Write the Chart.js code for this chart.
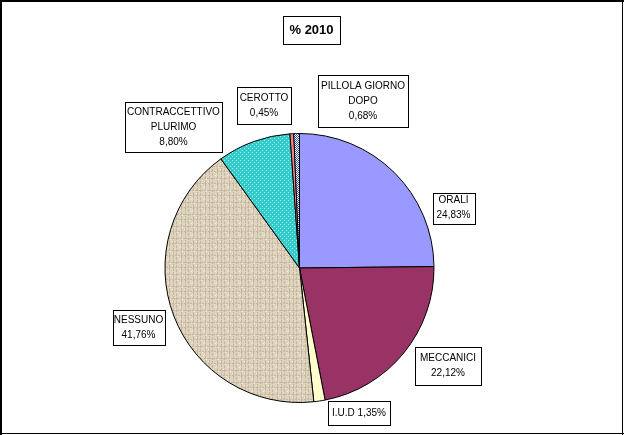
<!DOCTYPE html>
<html>
<head>
<meta charset="utf-8">
<script src="https://cdn.jsdelivr.net/npm/chart.js@4.4.1/dist/chart.umd.min.js"></script>
<style>
  body { margin: 0; background: #fff; }
  canvas { display: block; }
</style>
</head>
<body>
<canvas id="myChart" width="624" height="435"></canvas>
<script>
// data (% 2010)
const categories = ['ORALI', 'MECCANICI', 'I.U.D', 'NESSUNO', 'CONTRACCETTIVO PLURIMO', 'CEROTTO', 'PILLOLA GIORNO DOPO'];
const values = [24.83, 22.12, 1.35, 41.76, 8.80, 0.45, 0.68];
const chartTitle = '% 2010';

// label box lines (how the callouts wrap the names)
const labelLines = [
    ['ORALI'],
    ['MECCANICI'],
    ['I.U.D'],
    ['NESSUNO'],
    ['CONTRACCETTIVO', 'PLURIMO'],
    ['CEROTTO'],
    ['PILLOLA GIORNO', 'DOPO']
];

// callout box placement, relative to pie centre (dx, dy) and box size
const labelBoxes = [
    { dx: 154, dy: -60, w: 42, h: 31, inline: false },
    { dx: 148.5, dy: 98, w: 66, h: 38, inline: false },
    { dx: 59.5, dy: 145, w: 62, h: 24, inline: true },
    { dx: -161, dy: 59.5, w: 52, h: 35, inline: false },
    { dx: -126, dy: -141, w: 97, h: 50, inline: false },
    { dx: -35.5, dy: -162.5, w: 54, h: 37, inline: false },
    { dx: 63.5, dy: -167, w: 90, h: 52, inline: false }
];

function fmt(v) {
    return v.toFixed(2).replace('.', ',') + '%';
}

function makePattern(size, draw) {
    const c = document.createElement('canvas');
    c.width = size;
    c.height = size;
    const g = c.getContext('2d');
    draw(g);
    return c.getContext('2d').createPattern(c, 'repeat');
}

// textured fills like the old Excel chart
const canvasFill = makePattern(12, g => {
    g.fillStyle = '#ddd3be';
    g.fillRect(0, 0, 12, 12);
    // linen weave: broken vertical and horizontal threads
    g.fillStyle = '#c6b89c';
    [1, 5, 8].forEach(x => {
        for (let y = 0; y < 12; y++) {
            if ((y + x) % 4 !== 0) g.fillRect(x, y, 1, 1);
        }
    });
    [3, 10].forEach(y => {
        for (let x = 0; x < 12; x++) {
            if ((x + y) % 3 !== 0) g.fillRect(x, y, 1, 1);
        }
    });
    g.fillStyle = '#f0eadf';
    [[0, 6], [4, 1], [7, 9], [10, 4], [2, 11], [11, 7]].forEach(p => g.fillRect(p[0], p[1], 1, 1));
});

const dotsFill = makePattern(4, g => {
    g.fillStyle = '#33cccc';
    g.fillRect(0, 0, 4, 4);
    g.fillStyle = '#a8ecec';
    g.fillRect(0, 0, 1, 1);
    g.fillRect(2, 2, 1, 1);
});

const checkFill = makePattern(2, g => {
    g.fillStyle = '#ffffff';
    g.fillRect(0, 0, 2, 2);
    g.fillStyle = '#3355aa';
    g.fillRect(0, 0, 1, 1);
    g.fillRect(1, 1, 1, 1);
});

const sliceColors = ['#9999ff', '#993366', '#ffffcc', canvasFill, dotsFill, '#ff8080', checkFill];

function drawBox(ctx, cx, cy, w, h) {
    const x = Math.round(cx - w / 2) + 0.5;
    const y = Math.round(cy - h / 2) + 0.5;
    ctx.fillStyle = '#fff';
    ctx.fillRect(x, y, w, h);
    ctx.strokeStyle = '#000';
    ctx.lineWidth = 1;
    ctx.strokeRect(x, y, w, h);
}

const calloutPlugin = {
    id: 'callouts',
    afterDatasetsDraw(chart) {
        const ctx = chart.ctx;
        const arc = chart.getDatasetMeta(0).data[0];
        const cx = arc.x;
        const cy = arc.y;
        ctx.save();
        ctx.font = '10px "Liberation Sans", Arial, sans-serif';
        ctx.textAlign = 'center';
        ctx.textBaseline = 'middle';
        labelBoxes.forEach((b, i) => {
            const bx = cx + b.dx;
            const by = cy + b.dy;
            drawBox(ctx, bx, by, b.w, b.h);
            ctx.fillStyle = '#000';
            let lines;
            if (b.inline) {
                lines = [labelLines[i].join(' ') + ' ' + fmt(values[i])];
            } else {
                lines = labelLines[i].concat([fmt(values[i])]);
            }
            const step = 15;
            const top = by - (lines.length - 1) * step / 2;
            lines.forEach((t, k) => ctx.fillText(t, bx, top + k * step));
        });

        // title box
        ctx.font = 'bold 13px "Liberation Sans", Arial, sans-serif';
        drawBox(ctx, 311.5, 29.5, 57, 28);
        ctx.fillStyle = '#000';
        ctx.fillText(chartTitle, 311.5, 30);

        // outer frame
        ctx.fillStyle = '#000';
        ctx.fillRect(0, 0, chart.width, 2);
        ctx.fillRect(0, 0, 2, chart.height);
        ctx.fillRect(chart.width - 2, 0, 1, chart.height);
        ctx.fillRect(0, chart.height - 2, chart.width, 1);
        ctx.restore();
    }
};

const ctx = document.getElementById('myChart').getContext('2d');

new Chart(ctx, {
    type: 'pie',
    data: {
        labels: categories,
        datasets: [{
            data: values,
            backgroundColor: sliceColors,
            borderColor: '#000',
            borderWidth: 1
        }]
    },
    options: {
        responsive: false,
        animation: false,
        layout: {
            padding: { left: 164, right: 189, top: 133, bottom: 32 }
        },
        plugins: {
            legend: { display: false },
            tooltip: { enabled: false },
            title: { display: false }
        }
    },
    plugins: [calloutPlugin]
});
</script>
</body>
</html>
